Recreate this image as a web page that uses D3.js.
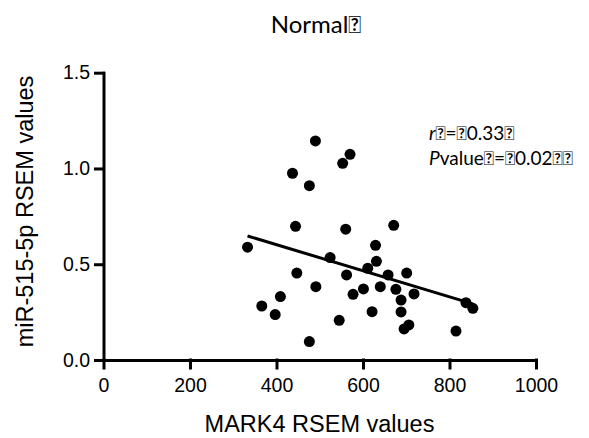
<!DOCTYPE html>
<html>
<head>
<meta charset="utf-8">
<script src="https://cdn.jsdelivr.net/npm/d3@7"></script>
<style>
  body { margin: 0; background: #fff; }
  svg { display: block; }
</style>
</head>
<body>
<svg id="chart" width="589" height="438"></svg>
<script>
// MARK4 vs miR-515-5p, normal tissue
let mark4 = [333, 366, 397, 409, 437, 444, 447, 476, 476, 490, 491, 524,
    553, 570, 560, 545, 562, 577, 601, 611, 621, 629, 631, 640,
    658, 671, 676, 688, 688, 695, 706, 701, 718, 815, 838, 854];
let mir515 = [0.589, 0.282, 0.237, 0.331, 0.975, 0.698, 0.454, 0.910, 0.096, 1.144, 0.383, 0.535,
    1.027, 1.074, 0.683, 0.207, 0.444, 0.343, 0.371, 0.479, 0.252, 0.599, 0.515, 0.383,
    0.444, 0.703, 0.369, 0.313, 0.251, 0.162, 0.183, 0.454, 0.345, 0.151, 0.299, 0.270];
let xTicks = [0, 200, 400, 600, 800, 1000];
let yTicks = [0.0, 0.5, 1.0, 1.5];
let fitSlope = -0.00068;
let fitIntercept = 0.874;

let svg = d3.select("#chart");
let tickFont = "'Liberation Sans', Arial, sans-serif";
let noteFont = "Lato, 'Open Sans', sans-serif";

let xScale = d3.scaleLinear().domain([0, 1000]).range([103.5, 536]);
let yScale = d3.scaleLinear().domain([0, 1.5]).range([360, 72.7]);

// axes
let x_axis = d3.axisBottom(xScale).tickValues(xTicks).tickSize(8).tickSizeOuter(0).tickPadding(10)
    .tickFormat(d3.format("d"));
let y_axis = d3.axisLeft(yScale).tickValues(yTicks).tickSize(8).tickSizeOuter(0).tickPadding(5.5)
    .tickFormat(d3.format(".1f"));

let gx = svg.append("g").attr("transform", "translate(0,360)").call(x_axis);
let gy = svg.append("g").attr("transform", "translate(103.5,0)").call(y_axis);

[gx, gy].forEach(g => {
    g.attr("font-family", tickFont).attr("font-size", 19.5);
    g.selectAll("path, line").attr("stroke", "#000").attr("stroke-width", 3)
        .attr("stroke-linecap", "square");
    g.selectAll("text").attr("fill", "#000");
});

// scatter points
svg.append("g").selectAll("circle")
    .data(mark4)
    .enter()
    .append("circle")
    .attr("cx", d => xScale(d))
    .attr("cy", (d, i) => yScale(mir515[i]))
    .attr("r", 5.5)
    .attr("fill", "#000");

// regression line over range of x
let xr = d3.extent(mark4);
svg.append("line")
    .attr("x1", xScale(xr[0]))
    .attr("y1", yScale(fitIntercept + fitSlope * xr[0]))
    .attr("x2", xScale(xr[1]))
    .attr("y2", yScale(fitIntercept + fitSlope * xr[1]))
    .attr("stroke", "#000")
    .attr("stroke-width", 3);

// axis titles
svg.append("text")
    .attr("x", 319.5).attr("y", 432)
    .attr("text-anchor", "middle")
    .style("font-family", tickFont).style("font-size", "23.5px")
    .text("MARK4 RSEM values");

svg.append("text")
    .attr("transform", "translate(33,211.5) rotate(-90)")
    .attr("text-anchor", "middle")
    .style("font-family", tickFont).style("font-size", "23.5px")
    .text("miR-515-5p RSEM values");

// title
svg.append("text")
    .attr("x", 316).attr("y", 32.7)
    .attr("text-anchor", "middle")
    .style("font-family", noteFont).style("font-size", "24px")
    .text("Normal\uE000");

// r and P value note
let note1 = svg.append("text").attr("x", 429).attr("y", 140)
    .style("font-family", noteFont).style("font-size", "19px");
note1.append("tspan").style("font-style", "italic").text("r");
note1.append("tspan").text("\uE000=\uE0000.33\uE000");

let note2 = svg.append("text").attr("x", 429).attr("y", 165)
    .style("font-family", noteFont).style("font-size", "19px");
note2.append("tspan").style("font-style", "italic").text("P");
note2.append("tspan").text("value\uE000=\uE0000.02\uE000\uE000");
</script>
</body>
</html>
